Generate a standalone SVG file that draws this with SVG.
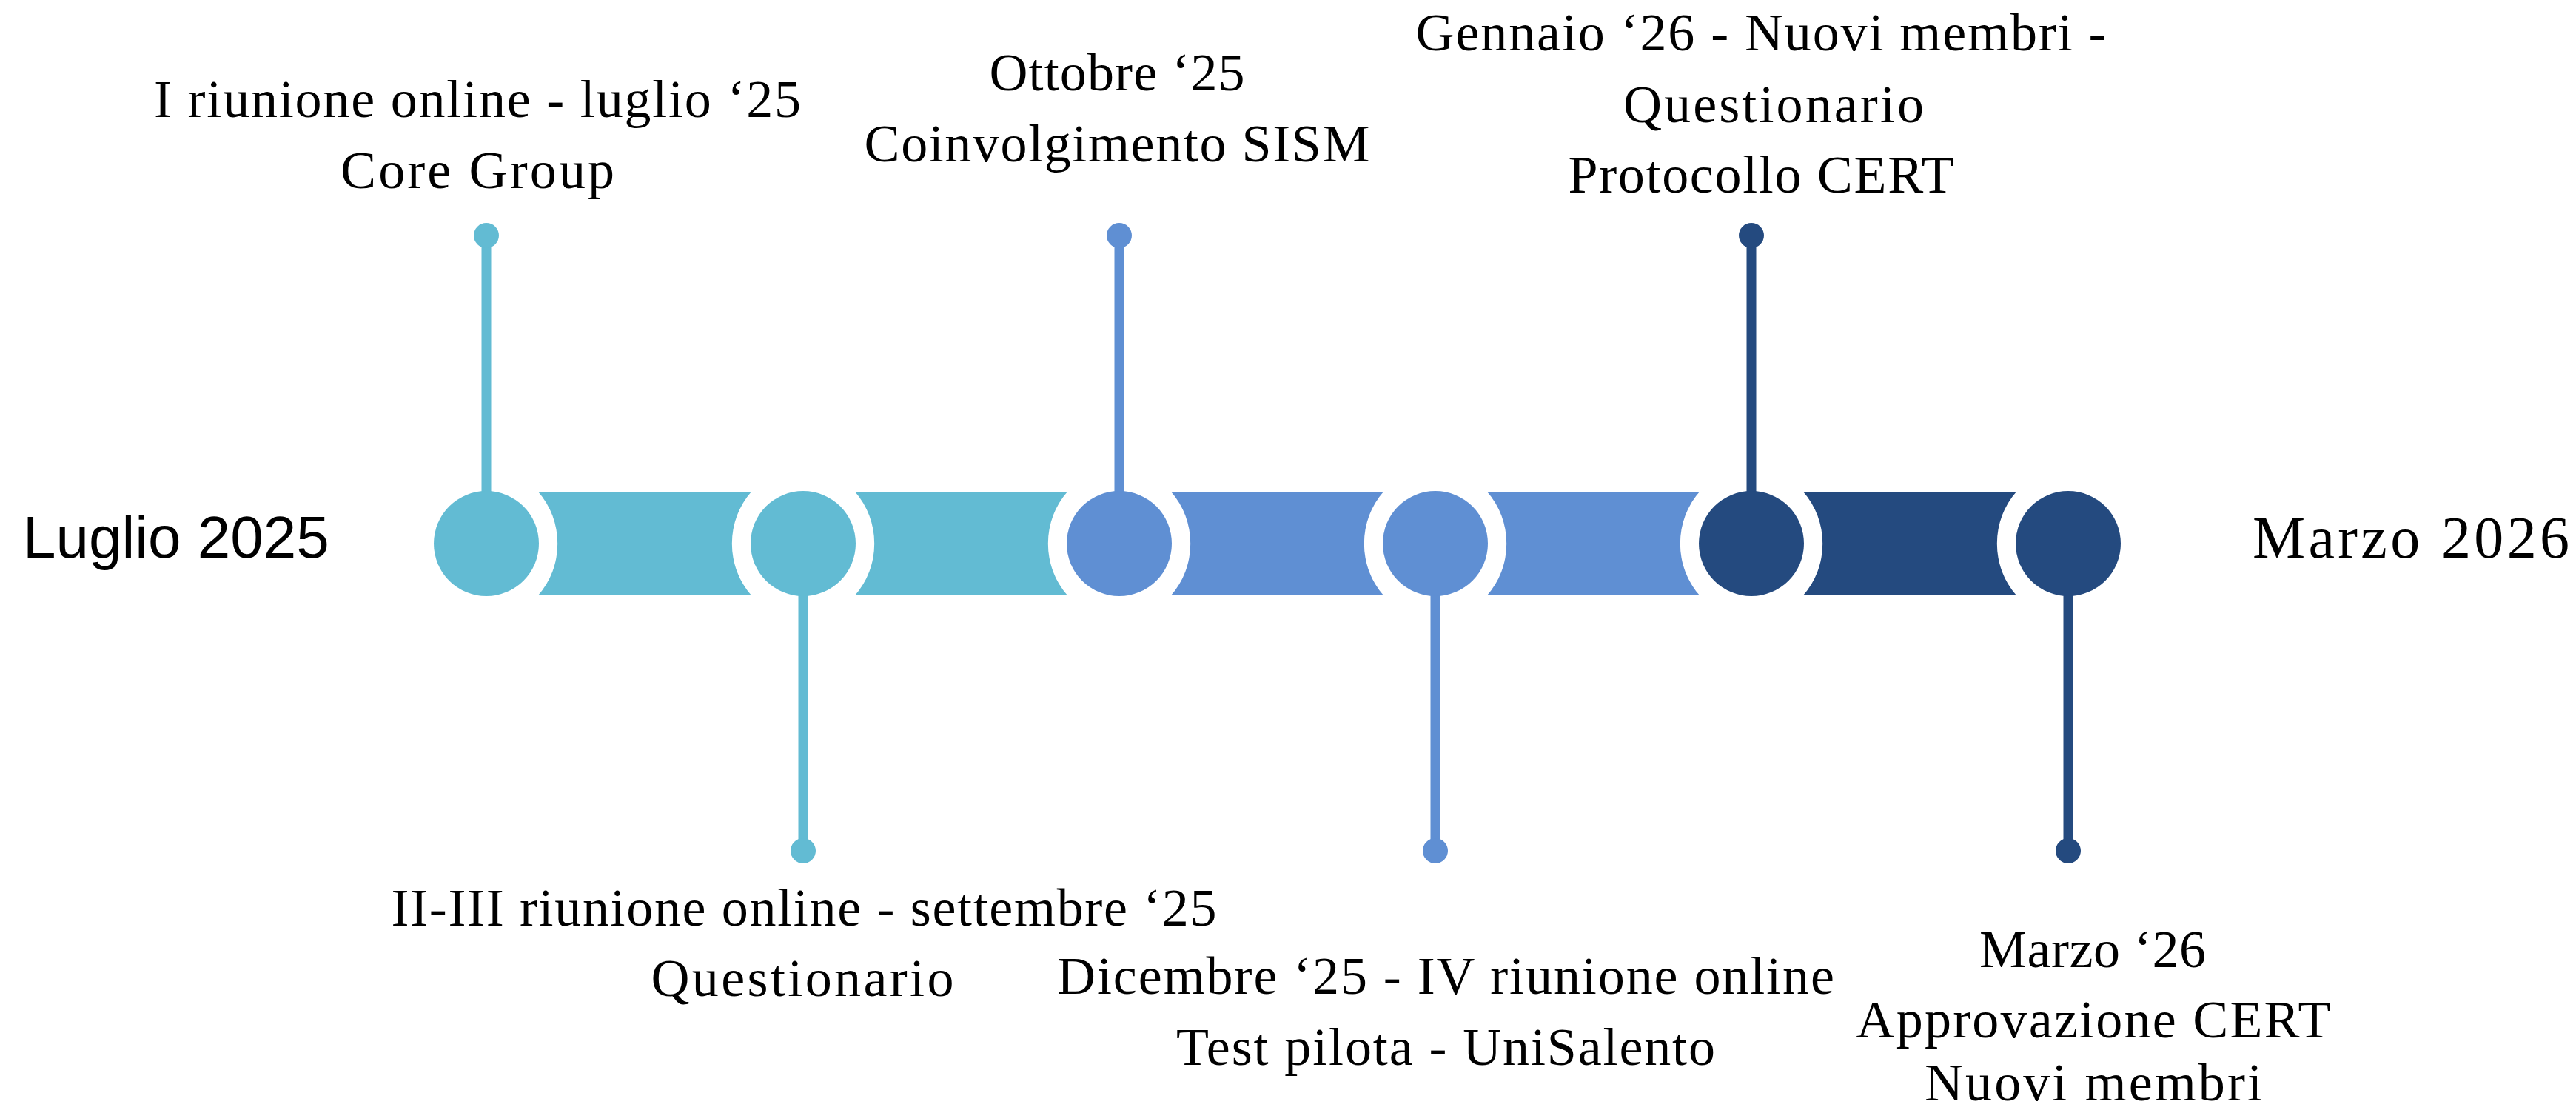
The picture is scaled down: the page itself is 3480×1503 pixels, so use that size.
<svg xmlns="http://www.w3.org/2000/svg" width="3480" height="1503" viewBox="0 0 3480 1503">
<style>
.c1{fill:#62BBD3}
.c2{fill:#5F8FD3}
.c3{fill:#244A7F}
.s1{stroke:#62BBD3}
.s2{stroke:#5F8FD3}
.s3{stroke:#244A7F}
.stem{stroke-width:13;fill:none}
.lbl{font-family:"Liberation Serif","Times New Roman",serif;font-size:72px;fill:#000;text-anchor:middle}
.end{font-size:80px;fill:#000}
</style>
<rect width="3480" height="1503" fill="#fff"/>
<g id="connectors">
  <line class="stem s1" x1="657" y1="318" x2="657" y2="670"/>
  <line class="stem s1" x1="1085" y1="798" x2="1085" y2="1149"/>
  <line class="stem s2" x1="1512" y1="318" x2="1512" y2="670"/>
  <line class="stem s2" x1="1939" y1="798" x2="1939" y2="1149"/>
  <line class="stem s3" x1="2366" y1="318" x2="2366" y2="670"/>
  <line class="stem s3" x1="2794" y1="798" x2="2794" y2="1149"/>
  <circle class="c1" cx="657" cy="318" r="17"/>
  <circle class="c1" cx="1085" cy="1149" r="17"/>
  <circle class="c2" cx="1512" cy="318" r="17"/>
  <circle class="c2" cx="1939" cy="1149" r="17"/>
  <circle class="c3" cx="2366" cy="318" r="17"/>
  <circle class="c3" cx="2794" cy="1149" r="17"/>
</g>
<g id="bands">
  <path id="band1" class="c1" d="M727 664 H1015 A96 102 0 0 0 1015 804 H727 A96 102 0 0 0 727 664 Z"/>
  <path id="band2" class="c1" d="M1155 664 H1442 A96 102 0 0 0 1442 804 H1155 A96 102 0 0 0 1155 664 Z"/>
  <path id="band3" class="c2" d="M1582 664 H1869 A96 102 0 0 0 1869 804 H1582 A96 102 0 0 0 1582 664 Z"/>
  <path id="band4" class="c2" d="M2009 664 H2296 A96 102 0 0 0 2296 804 H2009 A96 102 0 0 0 2009 664 Z"/>
  <path id="band5" class="c3" d="M2436 664 H2724 A96 102 0 0 0 2724 804 H2436 A96 102 0 0 0 2436 664 Z"/>
</g>
<g id="node1">
  <circle class="c1" cx="657" cy="734" r="71"/>
  <text class="lbl" x="645" y="158" textLength="874" lengthAdjust="spacing">I riunione online - luglio ‘25</text>
  <text class="lbl" x="645" y="254" textLength="370" lengthAdjust="spacing">Core Group</text>
</g>
<g id="node2">
  <circle class="c1" cx="1085" cy="734" r="71"/>
  <text class="lbl" x="1086" y="1250" textLength="1115" lengthAdjust="spacing">II-III riunione online - settembre ‘25</text>
  <text class="lbl" x="1084" y="1345" textLength="409" lengthAdjust="spacing">Questionario</text>
</g>
<g id="node3">
  <circle class="c2" cx="1512" cy="734" r="71"/>
  <text class="lbl" x="1509" y="122" textLength="345" lengthAdjust="spacing">Ottobre ‘25</text>
  <text class="lbl" x="1509" y="218" textLength="683" lengthAdjust="spacing">Coinvolgimento SISM</text>
</g>
<g id="node4">
  <circle class="c2" cx="1939" cy="734" r="71"/>
  <text class="lbl" x="1953" y="1342" textLength="1050" lengthAdjust="spacing">Dicembre ‘25 - IV riunione online</text>
  <text class="lbl" x="1953" y="1438" textLength="728" lengthAdjust="spacing">Test pilota - UniSalento</text>
</g>
<g id="node5">
  <circle class="c3" cx="2366" cy="734" r="71"/>
  <text class="lbl" x="2379" y="68" textLength="933" lengthAdjust="spacing">Gennaio ‘26 - Nuovi membri -</text>
  <text class="lbl" x="2396" y="165" textLength="406" lengthAdjust="spacing">Questionario</text>
  <text class="lbl" x="2379" y="260" textLength="521" lengthAdjust="spacing">Protocollo CERT</text>
</g>
<g id="node6">
  <circle class="c3" cx="2794" cy="734" r="71"/>
  <text class="lbl" x="2827" y="1306" textLength="306" lengthAdjust="spacing">Marzo ‘26</text>
  <text class="lbl" x="2828" y="1401" textLength="641" lengthAdjust="spacing">Approvazione CERT</text>
  <text class="lbl" x="2828" y="1486" textLength="456" lengthAdjust="spacing">Nuovi membri</text>
</g>
<g id="start">
  <text class="end" x="31" y="753" font-family="'Liberation Sans',Arial,sans-serif">Luglio 2025</text>
</g>
<g id="finish">
  <text class="end" x="3043" y="753" font-family="'Liberation Serif','Times New Roman',serif" textLength="428" lengthAdjust="spacing">Marzo 2026</text>
</g>
</svg>
